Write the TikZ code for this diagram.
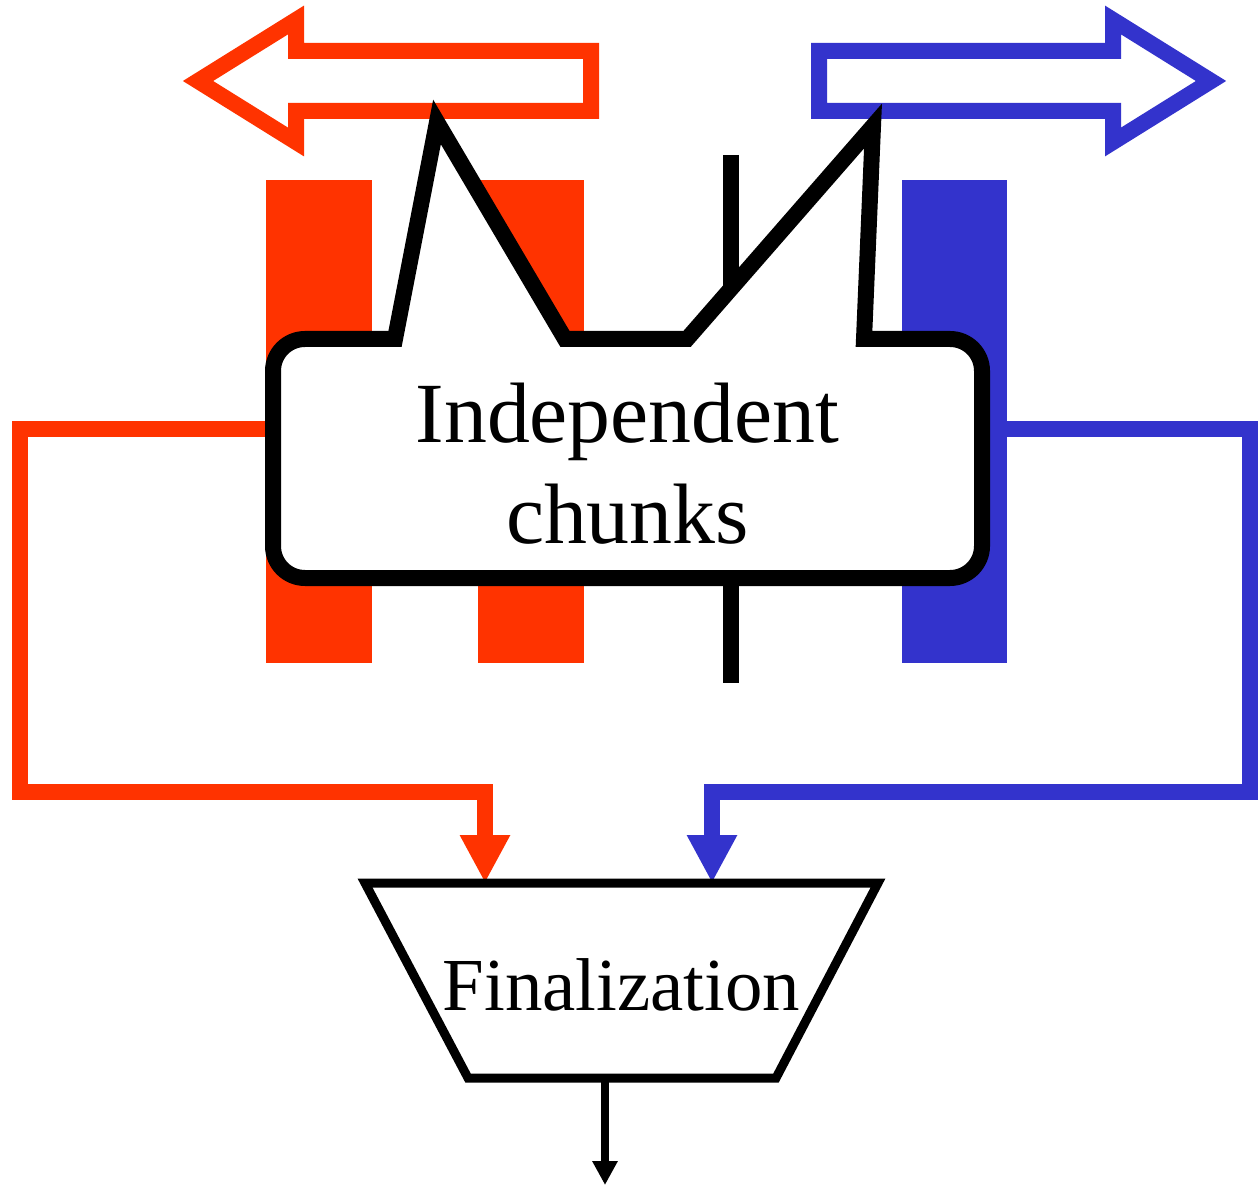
\documentclass[tikz,border=0pt]{standalone}
\usepackage{fontspec}
\setmainfont{Liberation Serif}
\usepackage{xcolor}
\usetikzlibrary{arrows.meta, positioning}
\definecolor{chunkred}{RGB}{255,51,0}
\definecolor{chunkblue}{RGB}{51,51,204}
\pgfdeclarelayer{back}
\pgfsetlayers{back,main}

\begin{document}
\begin{tikzpicture}[
    x=0.1mm, y=-0.1mm,
    bigarrow/.style={draw=#1, line width=1.6mm, fill=white},
    link/.style={draw=#1, line width=1.6mm, -{Triangle[width=4.7mm,length=4.8mm]}},
    callout/.style={draw=black, line width=1.6mm, fill=white},
    chunktext/.style={minimum width=70.9mm, minimum height=23.9mm, inner sep=0pt, outer sep=0pt, align=center, font=\fontsize{24.4}{28.8}\selectfont},
    fintext/.style={minimum width=51.3mm, minimum height=19.5mm, inner sep=0pt, outer sep=0pt, text height=17.3pt, font=\fontsize{21.3}{25}\selectfont},
    finbox/.style={draw=black, line width=0.9mm}
]
\useasboundingbox (0,0) rectangle (1258,1189);

% callout with its two spikes
\draw[callout] (273,371) .. controls (273,353.3) and (287.3,339) .. (305,339)
  -- (395,339) -- (437,122) -- (565,339) -- (687,339) -- (873,126) -- (864,339)
  -- (950,339) .. controls (967.7,339) and (982,353.3) .. (982,371)
  -- (982,546) .. controls (982,563.7) and (967.7,578) .. (950,578)
  -- (305,578) .. controls (287.3,578) and (273,563.7) .. (273,546) -- cycle;
\node[chunktext] (chunks) at (627.5,463.5) {Independent\\chunks};

% finalization stage
\node[fintext] (fin) at (621.5,980.5) {Finalization};
\draw[finbox] (fin.north west) -- (fin.north east) -- ([xshift=-10.2mm]fin.south east)
  -- ([xshift=10.3mm]fin.south west) -- cycle;
\coordinate (out) at (605,1185);
\draw[line width=0.8mm, -{Triangle[width=2.4mm,length=2.4mm]}] (out |- fin.south) -- (out);

\begin{pgfonlayer}{back}
% column bars
\fill[chunkred] (266,180) rectangle (372,663);
\fill[chunkred] (478,180) rectangle (584,663);
\fill[chunkblue] (902,180) rectangle (1007,663);
\draw[line width=1.6mm] (731,155) -- (731,683);

% direction arrows
\draw[bigarrow=chunkred] (591,51) -- (296,51) -- (296,20) -- (198,81) -- (296,142) -- (296,111) -- (591,111) -- cycle;
\draw[bigarrow=chunkblue] (819,51) -- (1113,51) -- (1113,20) -- (1211,81) -- (1113,142) -- (1113,111) -- (819,111) -- cycle;

% links into finalization
\coordinate (redturn) at (485,792);
\coordinate (blueturn) at (712,792);
\draw[link=chunkred] ([yshift=3.45mm]chunks.west) -- ++(-253,0) |- (redturn) -- (redturn |- fin.north);
\draw[link=chunkblue] ([yshift=3.45mm]chunks.east) -- ++(268,0) |- (blueturn) -- (blueturn |- fin.north);
\end{pgfonlayer}
\end{tikzpicture}
\end{document}
